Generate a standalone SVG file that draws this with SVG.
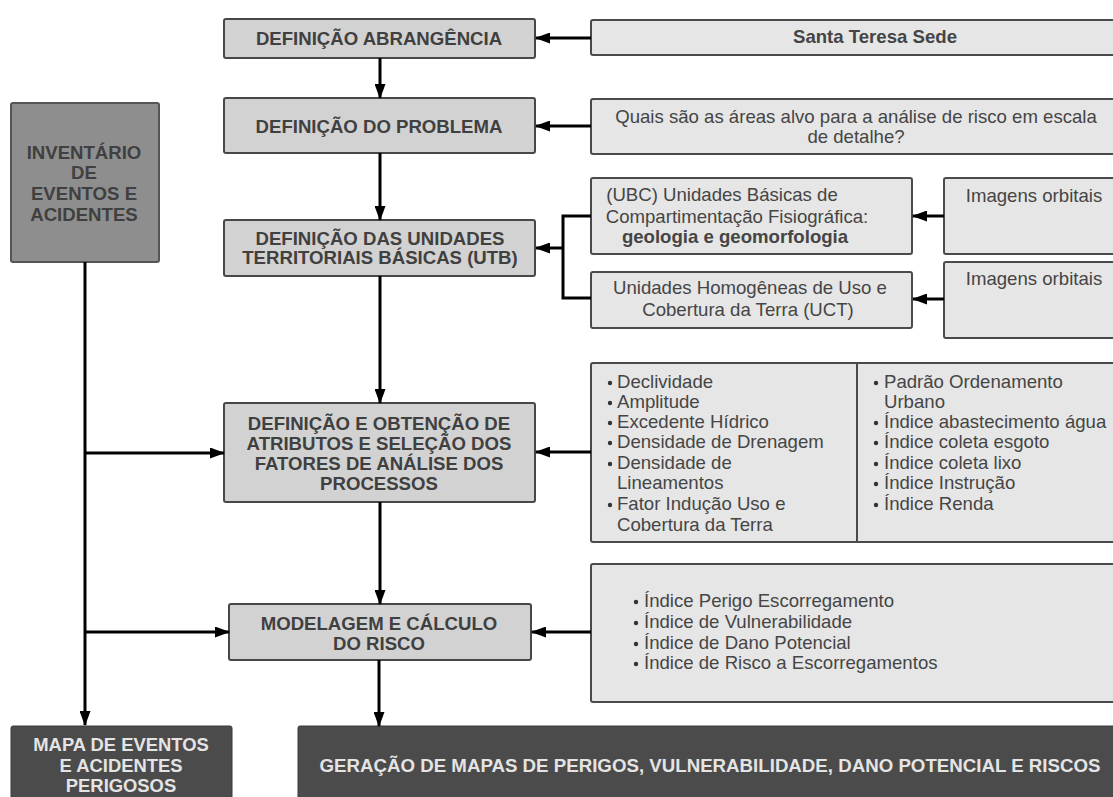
<svg xmlns="http://www.w3.org/2000/svg" width="1113" height="797" viewBox="0 0 1113 797">
<style>
.proc{fill:#d2d2d2;stroke:#474747;stroke-width:2}
.info{fill:#e6e6e6;stroke:#4a4a4a;stroke-width:2}
.inv{fill:#8e8e8e;stroke:#555;stroke-width:2}
.dark{fill:#4b4b4b;stroke:#3a3a3a;stroke-width:1}
.h{font-family:"Liberation Sans",Arial,sans-serif;font-weight:bold;font-size:18.6px;fill:#404040;text-anchor:middle}
.hw{font-family:"Liberation Sans",Arial,sans-serif;font-weight:bold;font-size:18.4px;fill:#e4e4e4;text-anchor:middle}
.t{font-family:"Liberation Sans",Arial,sans-serif;font-size:18.6px;fill:#454545}
.c{text-anchor:middle}
.b{font-weight:bold}
.dot{fill:#333}
.conn line,.conn path{stroke:#000;stroke-width:3;fill:none}
</style>
<defs>
<marker id="ah" markerUnits="userSpaceOnUse" markerWidth="15" markerHeight="11" refX="14" refY="5.5" orient="auto">
<path d="M0,0 L15,5.5 L0,11 z" fill="#000"/>
</marker>
</defs>
<rect width="1113" height="797" fill="#fff"/>

<g id="abrangencia">
<rect class="proc" x="224" y="19" width="311" height="39" rx="2"/>
<text class="h" x="379" y="45">DEFINIÇÃO ABRANGÊNCIA</text>
</g>
<g id="santa-teresa">
<rect class="info" x="591" y="20" width="530" height="35" rx="2"/>
<text class="t c b" x="875" y="43" font-size="19.8">Santa Teresa Sede</text>
</g>
<g id="problema">
<rect class="proc" x="224" y="98" width="311" height="55" rx="2"/>
<text class="h" x="379" y="133">DEFINIÇÃO DO PROBLEMA</text>
</g>
<g id="questao">
<rect class="info" x="591" y="99" width="530" height="55" rx="2"/>
<text class="t c" x="856" y="123">Quais são as áreas alvo para a análise de risco em escala</text>
<text class="t c" x="856" y="143">de detalhe?</text>
</g>
<g id="inventario">
<rect class="inv" x="11" y="103" width="148" height="159" rx="2"/>
<text class="h" x="84" y="159" fill="#3a3a3a">INVENTÁRIO</text>
<text class="h" x="84" y="179">DE</text>
<text class="h" x="84" y="200">EVENTOS E</text>
<text class="h" x="84" y="221">ACIDENTES</text>
</g>
<g id="utb">
<rect class="proc" x="224" y="220" width="311" height="56" rx="2"/>
<text class="h" x="380" y="245">DEFINIÇÃO DAS UNIDADES</text>
<text class="h" x="380" y="264">TERRITORIAIS BÁSICAS (UTB)</text>
</g>
<g id="ubc">
<rect class="info" x="591" y="178" width="321" height="76" rx="2"/>
<text class="t c" x="722" y="201">(UBC) Unidades Básicas de</text>
<text class="t c" x="737" y="223">Compartimentação Fisiográfica:</text>
<text class="t c b" x="735" y="243">geologia e geomorfologia</text>
</g>
<g id="uct">
<rect class="info" x="591" y="272" width="321" height="56" rx="2"/>
<text class="t c" x="750" y="294">Unidades Homogêneas de Uso e</text>
<text class="t c" x="748" y="316">Cobertura da Terra (UCT)</text>
</g>
<g id="imagens1">
<rect class="info" x="944" y="178" width="180" height="76" rx="2"/>
<text class="t c" x="1034" y="202">Imagens orbitais</text>
</g>
<g id="imagens2">
<rect class="info" x="944" y="262" width="180" height="76" rx="2"/>
<text class="t c" x="1034" y="285">Imagens orbitais</text>
</g>
<g id="atributos">
<rect class="proc" x="224" y="403" width="311" height="99" rx="2"/>
<text class="h" x="379" y="430">DEFINIÇÃO E OBTENÇÃO DE</text>
<text class="h" x="379" y="450">ATRIBUTOS E SELEÇÃO DOS</text>
<text class="h" x="379" y="470">FATORES DE ANÁLISE DOS</text>
<text class="h" x="379" y="490">PROCESSOS</text>
</g>
<g id="fatores">
<rect class="info" x="591" y="363" width="530" height="179" rx="2"/>
<line x1="857" y1="363" x2="857" y2="542" stroke="#4a4a4a" stroke-width="2"/>
<g class="dot">
<circle cx="610" cy="383" r="2.2"/><circle cx="610" cy="403" r="2.2"/><circle cx="610" cy="423" r="2.2"/><circle cx="610" cy="443" r="2.2"/><circle cx="610" cy="464" r="2.2"/><circle cx="610" cy="505" r="2.2"/>
<circle cx="876" cy="383" r="2.2"/><circle cx="876" cy="423" r="2.2"/><circle cx="876" cy="443" r="2.2"/><circle cx="876" cy="464" r="2.2"/><circle cx="876" cy="484" r="2.2"/><circle cx="876" cy="505" r="2.2"/>
</g>
<text class="t" x="617" y="388">Declividade</text>
<text class="t" x="617" y="408">Amplitude</text>
<text class="t" x="617" y="428">Excedente Hídrico</text>
<text class="t" x="617" y="448">Densidade de Drenagem</text>
<text class="t" x="617" y="469">Densidade de</text>
<text class="t" x="617" y="489">Lineamentos</text>
<text class="t" x="617" y="510">Fator Indução Uso e</text>
<text class="t" x="617" y="531">Cobertura da Terra</text>
<text class="t" x="884" y="388">Padrão Ordenamento</text>
<text class="t" x="884" y="408">Urbano</text>
<text class="t" x="884" y="428">Índice abastecimento água</text>
<text class="t" x="884" y="448">Índice coleta esgoto</text>
<text class="t" x="884" y="469">Índice coleta lixo</text>
<text class="t" x="884" y="489">Índice Instrução</text>
<text class="t" x="884" y="510">Índice Renda</text>
</g>
<g id="modelagem">
<rect class="proc" x="229" y="604" width="302" height="56" rx="2"/>
<text class="h" x="379" y="630">MODELAGEM  E CÁLCULO</text>
<text class="h" x="379" y="650">DO RISCO</text>
</g>
<g id="indices">
<rect class="info" x="591" y="564" width="530" height="138" rx="2"/>
<g class="dot">
<circle cx="636" cy="602" r="2.2"/><circle cx="636" cy="623" r="2.2"/><circle cx="636" cy="644" r="2.2"/><circle cx="636" cy="664" r="2.2"/>
</g>
<text class="t" x="644" y="607">Índice Perigo Escorregamento</text>
<text class="t" x="644" y="628">Índice de Vulnerabilidade</text>
<text class="t" x="644" y="649">Índice de Dano Potencial</text>
<text class="t" x="644" y="669">Índice de Risco a Escorregamentos</text>
</g>
<g id="mapa-eventos">
<rect class="dark" x="11" y="726" width="221" height="80" rx="2"/>
<text class="hw" x="121" y="751">MAPA DE EVENTOS</text>
<text class="hw" x="121" y="772">E ACIDENTES</text>
<text class="hw" x="121" y="792">PERIGOSOS</text>
</g>
<g id="geracao">
<rect class="dark" x="298" y="726" width="830" height="80" rx="2"/>
<text class="hw" x="710" y="772" textLength="781" lengthAdjust="spacingAndGlyphs">GERAÇÃO DE MAPAS DE PERIGOS, VULNERABILIDADE, DANO POTENCIAL E RISCOS</text>
</g>

<g id="connectors" class="conn">
<line x1="380" y1="58" x2="380" y2="98" marker-end="url(#ah)"/>
<line x1="380" y1="153" x2="380" y2="220" marker-end="url(#ah)"/>
<line x1="380" y1="276" x2="380" y2="403" marker-end="url(#ah)"/>
<line x1="380" y1="502" x2="380" y2="604" marker-end="url(#ah)"/>
<line x1="379" y1="660" x2="379" y2="726" marker-end="url(#ah)"/>
<line x1="591" y1="38" x2="536" y2="38" marker-end="url(#ah)"/>
<line x1="591" y1="126" x2="536" y2="126" marker-end="url(#ah)"/>
<path d="M591,216 H563 V298 H591"/>
<line x1="563" y1="248" x2="536" y2="248" marker-end="url(#ah)"/>
<line x1="944" y1="216" x2="913" y2="216" stroke-width="2" marker-end="url(#ah)"/>
<line x1="944" y1="299" x2="913" y2="299" stroke-width="2" marker-end="url(#ah)"/>
<line x1="591" y1="452" x2="536" y2="452" marker-end="url(#ah)"/>
<line x1="591" y1="632" x2="532" y2="632" marker-end="url(#ah)"/>
<line x1="85" y1="262" x2="85" y2="725" stroke-width="4" marker-end="url(#ah)"/>
<line x1="85" y1="453" x2="224" y2="453" marker-end="url(#ah)"/>
<line x1="85" y1="632" x2="229" y2="632" marker-end="url(#ah)"/>
</g>
</svg>
